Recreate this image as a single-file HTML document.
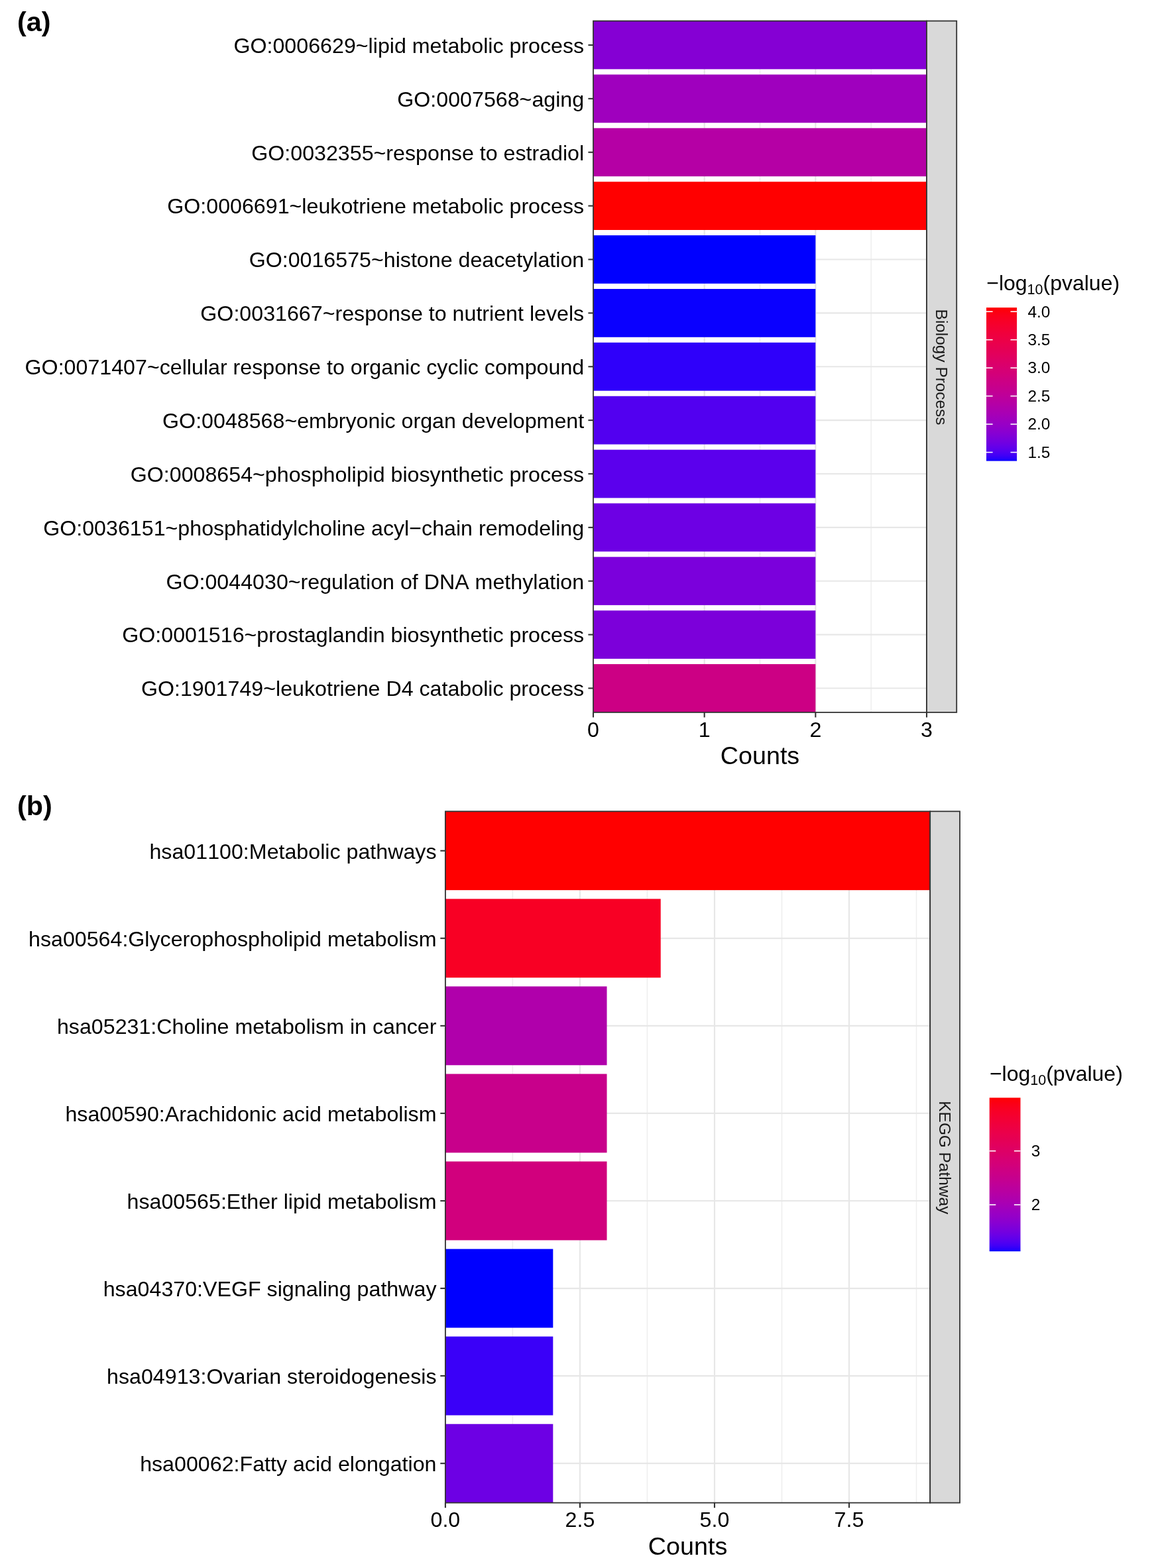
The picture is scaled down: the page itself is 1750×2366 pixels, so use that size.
<!DOCTYPE html><html><head><meta charset="utf-8"><style>html,body{margin:0;padding:0;background:#fff}svg{display:block}text{font-kerning:none}</style></head><body>
<svg width="1750" height="2366" viewBox="0 0 1750 2366">
<rect width="1750" height="2366" fill="#FFFFFF"/>
<text x="26" y="46.5" font-family="Liberation Sans, Arial, sans-serif" font-weight="bold" font-size="41.3" fill="#000">(a)</text>
<text x="26" y="1230" font-family="Liberation Sans, Arial, sans-serif" font-weight="bold" font-size="41.3" fill="#000">(b)</text>
<rect x="895" y="31.6" width="503" height="1043.3000000000002" fill="#FFFFFF"/>
<line x1="978.83" y1="31.6" x2="978.83" y2="1074.9" stroke="#EEEEEE" stroke-width="1.5"/>
<line x1="1146.50" y1="31.6" x2="1146.50" y2="1074.9" stroke="#EEEEEE" stroke-width="1.5"/>
<line x1="1314.17" y1="31.6" x2="1314.17" y2="1074.9" stroke="#EEEEEE" stroke-width="1.5"/>
<line x1="895.00" y1="31.6" x2="895.00" y2="1074.9" stroke="#E7E7E7" stroke-width="2.2"/>
<line x1="1062.67" y1="31.6" x2="1062.67" y2="1074.9" stroke="#E7E7E7" stroke-width="2.2"/>
<line x1="1230.33" y1="31.6" x2="1230.33" y2="1074.9" stroke="#E7E7E7" stroke-width="2.2"/>
<line x1="1398.00" y1="31.6" x2="1398.00" y2="1074.9" stroke="#E7E7E7" stroke-width="2.2"/>
<line x1="895" y1="67.99" x2="1398" y2="67.99" stroke="#E7E7E7" stroke-width="2.2"/>
<line x1="895" y1="148.87" x2="1398" y2="148.87" stroke="#E7E7E7" stroke-width="2.2"/>
<line x1="895" y1="229.75" x2="1398" y2="229.75" stroke="#E7E7E7" stroke-width="2.2"/>
<line x1="895" y1="310.62" x2="1398" y2="310.62" stroke="#E7E7E7" stroke-width="2.2"/>
<line x1="895" y1="391.50" x2="1398" y2="391.50" stroke="#E7E7E7" stroke-width="2.2"/>
<line x1="895" y1="472.37" x2="1398" y2="472.37" stroke="#E7E7E7" stroke-width="2.2"/>
<line x1="895" y1="553.25" x2="1398" y2="553.25" stroke="#E7E7E7" stroke-width="2.2"/>
<line x1="895" y1="634.13" x2="1398" y2="634.13" stroke="#E7E7E7" stroke-width="2.2"/>
<line x1="895" y1="715.00" x2="1398" y2="715.00" stroke="#E7E7E7" stroke-width="2.2"/>
<line x1="895" y1="795.88" x2="1398" y2="795.88" stroke="#E7E7E7" stroke-width="2.2"/>
<line x1="895" y1="876.75" x2="1398" y2="876.75" stroke="#E7E7E7" stroke-width="2.2"/>
<line x1="895" y1="957.63" x2="1398" y2="957.63" stroke="#E7E7E7" stroke-width="2.2"/>
<line x1="895" y1="1038.51" x2="1398" y2="1038.51" stroke="#E7E7E7" stroke-width="2.2"/>
<rect x="895" y="31.60" width="503.00" height="72.79" fill="#8500D4"/>
<rect x="895" y="112.48" width="503.00" height="72.79" fill="#9F00BE"/>
<rect x="895" y="193.35" width="503.00" height="72.79" fill="#B500A5"/>
<rect x="895" y="274.23" width="503.00" height="72.79" fill="#FF0000"/>
<rect x="895" y="355.10" width="335.33" height="72.79" fill="#0000FF"/>
<rect x="895" y="435.98" width="335.33" height="72.79" fill="#0A00FF"/>
<rect x="895" y="516.86" width="335.33" height="72.79" fill="#2F00FA"/>
<rect x="895" y="597.73" width="335.33" height="72.79" fill="#5200F0"/>
<rect x="895" y="678.61" width="335.33" height="72.79" fill="#5B00ED"/>
<rect x="895" y="759.48" width="335.33" height="72.79" fill="#6D00E4"/>
<rect x="895" y="840.36" width="335.33" height="72.79" fill="#7B00DC"/>
<rect x="895" y="921.24" width="335.33" height="72.79" fill="#7C00DA"/>
<rect x="895" y="1002.11" width="335.33" height="72.79" fill="#CC0084"/>
<rect x="895" y="31.6" width="503" height="1043.3000000000002" fill="none" stroke="#333333" stroke-width="1.8"/>
<rect x="1398" y="31.6" width="45.200000000000045" height="1043.3000000000002" fill="#D9D9D9" stroke="#333333" stroke-width="1.8"/>
<text x="0" y="0" transform="translate(1412.36,554.05) rotate(90)" text-anchor="middle" font-family="Liberation Sans, Arial, sans-serif" font-size="24.4" fill="#1A1A1A">Biology Process</text>
<line x1="887.40" y1="67.99" x2="895" y2="67.99" stroke="#333333" stroke-width="2.1"/>
<text x="881.2" y="79.79" text-anchor="end" font-family="Liberation Sans, Arial, sans-serif" font-size="32.2" fill="#000">GO:0006629~lipid metabolic process</text>
<line x1="887.40" y1="148.87" x2="895" y2="148.87" stroke="#333333" stroke-width="2.1"/>
<text x="881.2" y="160.67" text-anchor="end" font-family="Liberation Sans, Arial, sans-serif" font-size="32.2" fill="#000">GO:0007568~aging</text>
<line x1="887.40" y1="229.75" x2="895" y2="229.75" stroke="#333333" stroke-width="2.1"/>
<text x="881.2" y="241.55" text-anchor="end" font-family="Liberation Sans, Arial, sans-serif" font-size="32.2" fill="#000">GO:0032355~response to estradiol</text>
<line x1="887.40" y1="310.62" x2="895" y2="310.62" stroke="#333333" stroke-width="2.1"/>
<text x="881.2" y="322.42" text-anchor="end" font-family="Liberation Sans, Arial, sans-serif" font-size="32.2" fill="#000">GO:0006691~leukotriene metabolic process</text>
<line x1="887.40" y1="391.50" x2="895" y2="391.50" stroke="#333333" stroke-width="2.1"/>
<text x="881.2" y="403.30" text-anchor="end" font-family="Liberation Sans, Arial, sans-serif" font-size="32.2" fill="#000">GO:0016575~histone deacetylation</text>
<line x1="887.40" y1="472.37" x2="895" y2="472.37" stroke="#333333" stroke-width="2.1"/>
<text x="881.2" y="484.17" text-anchor="end" font-family="Liberation Sans, Arial, sans-serif" font-size="32.2" fill="#000">GO:0031667~response to nutrient levels</text>
<line x1="887.40" y1="553.25" x2="895" y2="553.25" stroke="#333333" stroke-width="2.1"/>
<text x="881.2" y="565.05" text-anchor="end" font-family="Liberation Sans, Arial, sans-serif" font-size="32.2" fill="#000">GO:0071407~cellular response to organic cyclic compound</text>
<line x1="887.40" y1="634.13" x2="895" y2="634.13" stroke="#333333" stroke-width="2.1"/>
<text x="881.2" y="645.93" text-anchor="end" font-family="Liberation Sans, Arial, sans-serif" font-size="32.2" fill="#000">GO:0048568~embryonic organ development</text>
<line x1="887.40" y1="715.00" x2="895" y2="715.00" stroke="#333333" stroke-width="2.1"/>
<text x="881.2" y="726.80" text-anchor="end" font-family="Liberation Sans, Arial, sans-serif" font-size="32.2" fill="#000">GO:0008654~phospholipid biosynthetic process</text>
<line x1="887.40" y1="795.88" x2="895" y2="795.88" stroke="#333333" stroke-width="2.1"/>
<text x="881.2" y="807.68" text-anchor="end" font-family="Liberation Sans, Arial, sans-serif" font-size="32.2" fill="#000">GO:0036151~phosphatidylcholine acyl−chain remodeling</text>
<line x1="887.40" y1="876.75" x2="895" y2="876.75" stroke="#333333" stroke-width="2.1"/>
<text x="881.2" y="888.55" text-anchor="end" font-family="Liberation Sans, Arial, sans-serif" font-size="32.2" fill="#000">GO:0044030~regulation of DNA methylation</text>
<line x1="887.40" y1="957.63" x2="895" y2="957.63" stroke="#333333" stroke-width="2.1"/>
<text x="881.2" y="969.43" text-anchor="end" font-family="Liberation Sans, Arial, sans-serif" font-size="32.2" fill="#000">GO:0001516~prostaglandin biosynthetic process</text>
<line x1="887.40" y1="1038.51" x2="895" y2="1038.51" stroke="#333333" stroke-width="2.1"/>
<text x="881.2" y="1050.31" text-anchor="end" font-family="Liberation Sans, Arial, sans-serif" font-size="32.2" fill="#000">GO:1901749~leukotriene D4 catabolic process</text>
<line x1="895.00" y1="1074.9" x2="895.00" y2="1082.50" stroke="#333333" stroke-width="2.1"/>
<text x="895.00" y="1111.60" text-anchor="middle" font-family="Liberation Sans, Arial, sans-serif" font-size="32.2" fill="#000">0</text>
<line x1="1062.67" y1="1074.9" x2="1062.67" y2="1082.50" stroke="#333333" stroke-width="2.1"/>
<text x="1062.67" y="1111.60" text-anchor="middle" font-family="Liberation Sans, Arial, sans-serif" font-size="32.2" fill="#000">1</text>
<line x1="1230.33" y1="1074.9" x2="1230.33" y2="1082.50" stroke="#333333" stroke-width="2.1"/>
<text x="1230.33" y="1111.60" text-anchor="middle" font-family="Liberation Sans, Arial, sans-serif" font-size="32.2" fill="#000">2</text>
<line x1="1398.00" y1="1074.9" x2="1398.00" y2="1082.50" stroke="#333333" stroke-width="2.1"/>
<text x="1398.00" y="1111.60" text-anchor="middle" font-family="Liberation Sans, Arial, sans-serif" font-size="32.2" fill="#000">3</text>
<text x="1146.50" y="1152.80" text-anchor="middle" font-family="Liberation Sans, Arial, sans-serif" font-size="37.7" fill="#000">Counts</text>
<text x="1488.20" y="437.7" font-family="Liberation Sans, Arial, sans-serif" font-size="32.0" fill="#000">−log<tspan font-size="21.5" dy="5.8">10</tspan><tspan dy="-5.8">(pvalue)</tspan></text>
<defs><linearGradient id="ga" x1="0" y1="0" x2="0" y2="1"><stop offset="0.0000" stop-color="#FF0000"/><stop offset="0.0083" stop-color="#FE0005"/><stop offset="0.0167" stop-color="#FE000B"/><stop offset="0.0250" stop-color="#FD000F"/><stop offset="0.0333" stop-color="#FC0013"/><stop offset="0.0417" stop-color="#FB0017"/><stop offset="0.0500" stop-color="#FB001A"/><stop offset="0.0583" stop-color="#FA001D"/><stop offset="0.0667" stop-color="#F90020"/><stop offset="0.0750" stop-color="#F90023"/><stop offset="0.0833" stop-color="#F80025"/><stop offset="0.0917" stop-color="#F70028"/><stop offset="0.1000" stop-color="#F6002A"/><stop offset="0.1083" stop-color="#F6002C"/><stop offset="0.1167" stop-color="#F5002F"/><stop offset="0.1250" stop-color="#F40031"/><stop offset="0.1333" stop-color="#F30033"/><stop offset="0.1417" stop-color="#F30035"/><stop offset="0.1500" stop-color="#F20037"/><stop offset="0.1583" stop-color="#F1003A"/><stop offset="0.1667" stop-color="#F0003C"/><stop offset="0.1750" stop-color="#EF003E"/><stop offset="0.1833" stop-color="#EF0040"/><stop offset="0.1917" stop-color="#EE0042"/><stop offset="0.2000" stop-color="#ED0044"/><stop offset="0.2083" stop-color="#EC0046"/><stop offset="0.2167" stop-color="#EB0048"/><stop offset="0.2250" stop-color="#EB004A"/><stop offset="0.2333" stop-color="#EA004C"/><stop offset="0.2417" stop-color="#E9004E"/><stop offset="0.2500" stop-color="#E80050"/><stop offset="0.2583" stop-color="#E70051"/><stop offset="0.2667" stop-color="#E60053"/><stop offset="0.2750" stop-color="#E50055"/><stop offset="0.2833" stop-color="#E40057"/><stop offset="0.2917" stop-color="#E40059"/><stop offset="0.3000" stop-color="#E3005B"/><stop offset="0.3083" stop-color="#E2005D"/><stop offset="0.3167" stop-color="#E1005F"/><stop offset="0.3250" stop-color="#E00061"/><stop offset="0.3333" stop-color="#DF0063"/><stop offset="0.3417" stop-color="#DE0065"/><stop offset="0.3500" stop-color="#DD0066"/><stop offset="0.3583" stop-color="#DC0068"/><stop offset="0.3667" stop-color="#DB006A"/><stop offset="0.3750" stop-color="#DA006C"/><stop offset="0.3833" stop-color="#D9006E"/><stop offset="0.3917" stop-color="#D80070"/><stop offset="0.4000" stop-color="#D70072"/><stop offset="0.4083" stop-color="#D60074"/><stop offset="0.4167" stop-color="#D50076"/><stop offset="0.4250" stop-color="#D40077"/><stop offset="0.4333" stop-color="#D30079"/><stop offset="0.4417" stop-color="#D2007B"/><stop offset="0.4500" stop-color="#D1007D"/><stop offset="0.4583" stop-color="#CF007F"/><stop offset="0.4667" stop-color="#CE0081"/><stop offset="0.4750" stop-color="#CD0083"/><stop offset="0.4833" stop-color="#CC0085"/><stop offset="0.4917" stop-color="#CB0087"/><stop offset="0.5000" stop-color="#CA0088"/><stop offset="0.5083" stop-color="#C8008A"/><stop offset="0.5167" stop-color="#C7008C"/><stop offset="0.5250" stop-color="#C6008E"/><stop offset="0.5333" stop-color="#C50090"/><stop offset="0.5417" stop-color="#C30092"/><stop offset="0.5500" stop-color="#C20094"/><stop offset="0.5583" stop-color="#C10096"/><stop offset="0.5667" stop-color="#BF0098"/><stop offset="0.5750" stop-color="#BE009A"/><stop offset="0.5833" stop-color="#BC009C"/><stop offset="0.5917" stop-color="#BB009E"/><stop offset="0.6000" stop-color="#BA009F"/><stop offset="0.6083" stop-color="#B800A1"/><stop offset="0.6167" stop-color="#B700A3"/><stop offset="0.6250" stop-color="#B500A5"/><stop offset="0.6333" stop-color="#B400A7"/><stop offset="0.6417" stop-color="#B200A9"/><stop offset="0.6500" stop-color="#B000AB"/><stop offset="0.6583" stop-color="#AF00AD"/><stop offset="0.6667" stop-color="#AD00AF"/><stop offset="0.6750" stop-color="#AB00B1"/><stop offset="0.6833" stop-color="#AA00B3"/><stop offset="0.6917" stop-color="#A800B5"/><stop offset="0.7000" stop-color="#A600B7"/><stop offset="0.7083" stop-color="#A400B9"/><stop offset="0.7167" stop-color="#A200BB"/><stop offset="0.7250" stop-color="#A000BD"/><stop offset="0.7333" stop-color="#9E00BF"/><stop offset="0.7417" stop-color="#9C00C1"/><stop offset="0.7500" stop-color="#9A00C3"/><stop offset="0.7583" stop-color="#9800C5"/><stop offset="0.7667" stop-color="#9600C7"/><stop offset="0.7750" stop-color="#9400C8"/><stop offset="0.7833" stop-color="#9100CA"/><stop offset="0.7917" stop-color="#8F00CC"/><stop offset="0.8000" stop-color="#8D00CE"/><stop offset="0.8083" stop-color="#8A00D0"/><stop offset="0.8167" stop-color="#8800D2"/><stop offset="0.8250" stop-color="#8500D4"/><stop offset="0.8333" stop-color="#8200D6"/><stop offset="0.8417" stop-color="#7F00D8"/><stop offset="0.8500" stop-color="#7C00DA"/><stop offset="0.8583" stop-color="#7900DC"/><stop offset="0.8667" stop-color="#7600DE"/><stop offset="0.8750" stop-color="#7300E0"/><stop offset="0.8833" stop-color="#6F00E2"/><stop offset="0.8917" stop-color="#6C00E5"/><stop offset="0.9000" stop-color="#6800E7"/><stop offset="0.9083" stop-color="#6400E9"/><stop offset="0.9167" stop-color="#6000EB"/><stop offset="0.9250" stop-color="#5B00ED"/><stop offset="0.9333" stop-color="#5600EF"/><stop offset="0.9417" stop-color="#5100F1"/><stop offset="0.9500" stop-color="#4B00F3"/><stop offset="0.9583" stop-color="#4500F5"/><stop offset="0.9667" stop-color="#3E00F7"/><stop offset="0.9750" stop-color="#3500F9"/><stop offset="0.9833" stop-color="#2B00FB"/><stop offset="0.9917" stop-color="#1D00FD"/><stop offset="1.0000" stop-color="#0000FF"/></linearGradient></defs>
<rect x="1488" y="464.1" width="46.1" height="231.5" fill="url(#ga)"/>
<line x1="1488" y1="682.52" x2="1497.60" y2="682.52" stroke="#FFFFFF" stroke-width="1.6"/>
<line x1="1524.50" y1="682.52" x2="1534.1" y2="682.52" stroke="#FFFFFF" stroke-width="1.6"/>
<text x="1550.40" y="690.82" font-family="Liberation Sans, Arial, sans-serif" font-size="24.4" fill="#000">1.5</text>
<line x1="1488" y1="640.06" x2="1497.60" y2="640.06" stroke="#FFFFFF" stroke-width="1.6"/>
<line x1="1524.50" y1="640.06" x2="1534.1" y2="640.06" stroke="#FFFFFF" stroke-width="1.6"/>
<text x="1550.40" y="648.36" font-family="Liberation Sans, Arial, sans-serif" font-size="24.4" fill="#000">2.0</text>
<line x1="1488" y1="597.60" x2="1497.60" y2="597.60" stroke="#FFFFFF" stroke-width="1.6"/>
<line x1="1524.50" y1="597.60" x2="1534.1" y2="597.60" stroke="#FFFFFF" stroke-width="1.6"/>
<text x="1550.40" y="605.90" font-family="Liberation Sans, Arial, sans-serif" font-size="24.4" fill="#000">2.5</text>
<line x1="1488" y1="555.14" x2="1497.60" y2="555.14" stroke="#FFFFFF" stroke-width="1.6"/>
<line x1="1524.50" y1="555.14" x2="1534.1" y2="555.14" stroke="#FFFFFF" stroke-width="1.6"/>
<text x="1550.40" y="563.44" font-family="Liberation Sans, Arial, sans-serif" font-size="24.4" fill="#000">3.0</text>
<line x1="1488" y1="512.68" x2="1497.60" y2="512.68" stroke="#FFFFFF" stroke-width="1.6"/>
<line x1="1524.50" y1="512.68" x2="1534.1" y2="512.68" stroke="#FFFFFF" stroke-width="1.6"/>
<text x="1550.40" y="520.98" font-family="Liberation Sans, Arial, sans-serif" font-size="24.4" fill="#000">3.5</text>
<line x1="1488" y1="470.21" x2="1497.60" y2="470.21" stroke="#FFFFFF" stroke-width="1.6"/>
<line x1="1524.50" y1="470.21" x2="1534.1" y2="470.21" stroke="#FFFFFF" stroke-width="1.6"/>
<text x="1550.40" y="478.51" font-family="Liberation Sans, Arial, sans-serif" font-size="24.4" fill="#000">4.0</text>
<rect x="671.9" y="1224.3" width="731.3000000000001" height="1043.3" fill="#FFFFFF"/>
<line x1="773.41" y1="1224.3" x2="773.41" y2="2267.6" stroke="#EEEEEE" stroke-width="1.5"/>
<line x1="976.44" y1="1224.3" x2="976.44" y2="2267.6" stroke="#EEEEEE" stroke-width="1.5"/>
<line x1="1179.47" y1="1224.3" x2="1179.47" y2="2267.6" stroke="#EEEEEE" stroke-width="1.5"/>
<line x1="1382.49" y1="1224.3" x2="1382.49" y2="2267.6" stroke="#EEEEEE" stroke-width="1.5"/>
<line x1="671.90" y1="1224.3" x2="671.90" y2="2267.6" stroke="#E7E7E7" stroke-width="2.2"/>
<line x1="874.93" y1="1224.3" x2="874.93" y2="2267.6" stroke="#E7E7E7" stroke-width="2.2"/>
<line x1="1077.95" y1="1224.3" x2="1077.95" y2="2267.6" stroke="#E7E7E7" stroke-width="2.2"/>
<line x1="1280.98" y1="1224.3" x2="1280.98" y2="2267.6" stroke="#E7E7E7" stroke-width="2.2"/>
<line x1="671.9" y1="1283.73" x2="1403.2" y2="1283.73" stroke="#E7E7E7" stroke-width="2.2"/>
<line x1="671.9" y1="1415.79" x2="1403.2" y2="1415.79" stroke="#E7E7E7" stroke-width="2.2"/>
<line x1="671.9" y1="1547.86" x2="1403.2" y2="1547.86" stroke="#E7E7E7" stroke-width="2.2"/>
<line x1="671.9" y1="1679.92" x2="1403.2" y2="1679.92" stroke="#E7E7E7" stroke-width="2.2"/>
<line x1="671.9" y1="1811.98" x2="1403.2" y2="1811.98" stroke="#E7E7E7" stroke-width="2.2"/>
<line x1="671.9" y1="1944.04" x2="1403.2" y2="1944.04" stroke="#E7E7E7" stroke-width="2.2"/>
<line x1="671.9" y1="2076.11" x2="1403.2" y2="2076.11" stroke="#E7E7E7" stroke-width="2.2"/>
<line x1="671.9" y1="2208.17" x2="1403.2" y2="2208.17" stroke="#E7E7E7" stroke-width="2.2"/>
<rect x="671.9" y="1224.30" width="730.89" height="118.86" fill="#FF0000"/>
<rect x="671.9" y="1356.36" width="324.84" height="118.86" fill="#F80024"/>
<rect x="671.9" y="1488.43" width="243.63" height="118.86" fill="#B000AB"/>
<rect x="671.9" y="1620.49" width="243.63" height="118.86" fill="#C8008B"/>
<rect x="671.9" y="1752.55" width="243.63" height="118.86" fill="#D1007D"/>
<rect x="671.9" y="1884.62" width="162.42" height="118.86" fill="#0000FF"/>
<rect x="671.9" y="2016.68" width="162.42" height="118.86" fill="#3A00F8"/>
<rect x="671.9" y="2148.74" width="162.42" height="118.86" fill="#6D00E4"/>
<rect x="671.9" y="1224.3" width="731.3000000000001" height="1043.3" fill="none" stroke="#333333" stroke-width="1.8"/>
<rect x="1403.2" y="1224.3" width="44.799999999999955" height="1043.3" fill="#D9D9D9" stroke="#333333" stroke-width="1.8"/>
<text x="0" y="0" transform="translate(1417.36,1746.75) rotate(90)" text-anchor="middle" font-family="Liberation Sans, Arial, sans-serif" font-size="24.4" fill="#1A1A1A">KEGG Pathway</text>
<line x1="664.30" y1="1283.73" x2="671.9" y2="1283.73" stroke="#333333" stroke-width="2.1"/>
<text x="658.5" y="1295.53" text-anchor="end" font-family="Liberation Sans, Arial, sans-serif" font-size="32.2" fill="#000">hsa01100:Metabolic pathways</text>
<line x1="664.30" y1="1415.79" x2="671.9" y2="1415.79" stroke="#333333" stroke-width="2.1"/>
<text x="658.5" y="1427.59" text-anchor="end" font-family="Liberation Sans, Arial, sans-serif" font-size="32.2" fill="#000">hsa00564:Glycerophospholipid metabolism</text>
<line x1="664.30" y1="1547.86" x2="671.9" y2="1547.86" stroke="#333333" stroke-width="2.1"/>
<text x="658.5" y="1559.66" text-anchor="end" font-family="Liberation Sans, Arial, sans-serif" font-size="32.2" fill="#000">hsa05231:Choline metabolism in cancer</text>
<line x1="664.30" y1="1679.92" x2="671.9" y2="1679.92" stroke="#333333" stroke-width="2.1"/>
<text x="658.5" y="1691.72" text-anchor="end" font-family="Liberation Sans, Arial, sans-serif" font-size="32.2" fill="#000">hsa00590:Arachidonic acid metabolism</text>
<line x1="664.30" y1="1811.98" x2="671.9" y2="1811.98" stroke="#333333" stroke-width="2.1"/>
<text x="658.5" y="1823.78" text-anchor="end" font-family="Liberation Sans, Arial, sans-serif" font-size="32.2" fill="#000">hsa00565:Ether lipid metabolism</text>
<line x1="664.30" y1="1944.04" x2="671.9" y2="1944.04" stroke="#333333" stroke-width="2.1"/>
<text x="658.5" y="1955.84" text-anchor="end" font-family="Liberation Sans, Arial, sans-serif" font-size="32.2" fill="#000">hsa04370:VEGF signaling pathway</text>
<line x1="664.30" y1="2076.11" x2="671.9" y2="2076.11" stroke="#333333" stroke-width="2.1"/>
<text x="658.5" y="2087.91" text-anchor="end" font-family="Liberation Sans, Arial, sans-serif" font-size="32.2" fill="#000">hsa04913:Ovarian steroidogenesis</text>
<line x1="664.30" y1="2208.17" x2="671.9" y2="2208.17" stroke="#333333" stroke-width="2.1"/>
<text x="658.5" y="2219.97" text-anchor="end" font-family="Liberation Sans, Arial, sans-serif" font-size="32.2" fill="#000">hsa00062:Fatty acid elongation</text>
<line x1="671.90" y1="2267.6" x2="671.90" y2="2275.20" stroke="#333333" stroke-width="2.1"/>
<text x="671.90" y="2304.30" text-anchor="middle" font-family="Liberation Sans, Arial, sans-serif" font-size="32.2" fill="#000">0.0</text>
<line x1="874.93" y1="2267.6" x2="874.93" y2="2275.20" stroke="#333333" stroke-width="2.1"/>
<text x="874.93" y="2304.30" text-anchor="middle" font-family="Liberation Sans, Arial, sans-serif" font-size="32.2" fill="#000">2.5</text>
<line x1="1077.95" y1="2267.6" x2="1077.95" y2="2275.20" stroke="#333333" stroke-width="2.1"/>
<text x="1077.95" y="2304.30" text-anchor="middle" font-family="Liberation Sans, Arial, sans-serif" font-size="32.2" fill="#000">5.0</text>
<line x1="1280.98" y1="2267.6" x2="1280.98" y2="2275.20" stroke="#333333" stroke-width="2.1"/>
<text x="1280.98" y="2304.30" text-anchor="middle" font-family="Liberation Sans, Arial, sans-serif" font-size="32.2" fill="#000">7.5</text>
<text x="1037.55" y="2345.50" text-anchor="middle" font-family="Liberation Sans, Arial, sans-serif" font-size="37.7" fill="#000">Counts</text>
<text x="1492.90" y="1631.2" font-family="Liberation Sans, Arial, sans-serif" font-size="32.0" fill="#000">−log<tspan font-size="21.5" dy="5.8">10</tspan><tspan dy="-5.8">(pvalue)</tspan></text>
<defs><linearGradient id="gb" x1="0" y1="0" x2="0" y2="1"><stop offset="0.0000" stop-color="#FF0000"/><stop offset="0.0083" stop-color="#FE0005"/><stop offset="0.0167" stop-color="#FE000B"/><stop offset="0.0250" stop-color="#FD000F"/><stop offset="0.0333" stop-color="#FC0013"/><stop offset="0.0417" stop-color="#FB0017"/><stop offset="0.0500" stop-color="#FB001A"/><stop offset="0.0583" stop-color="#FA001D"/><stop offset="0.0667" stop-color="#F90020"/><stop offset="0.0750" stop-color="#F90023"/><stop offset="0.0833" stop-color="#F80025"/><stop offset="0.0917" stop-color="#F70028"/><stop offset="0.1000" stop-color="#F6002A"/><stop offset="0.1083" stop-color="#F6002C"/><stop offset="0.1167" stop-color="#F5002F"/><stop offset="0.1250" stop-color="#F40031"/><stop offset="0.1333" stop-color="#F30033"/><stop offset="0.1417" stop-color="#F30035"/><stop offset="0.1500" stop-color="#F20037"/><stop offset="0.1583" stop-color="#F1003A"/><stop offset="0.1667" stop-color="#F0003C"/><stop offset="0.1750" stop-color="#EF003E"/><stop offset="0.1833" stop-color="#EF0040"/><stop offset="0.1917" stop-color="#EE0042"/><stop offset="0.2000" stop-color="#ED0044"/><stop offset="0.2083" stop-color="#EC0046"/><stop offset="0.2167" stop-color="#EB0048"/><stop offset="0.2250" stop-color="#EB004A"/><stop offset="0.2333" stop-color="#EA004C"/><stop offset="0.2417" stop-color="#E9004E"/><stop offset="0.2500" stop-color="#E80050"/><stop offset="0.2583" stop-color="#E70051"/><stop offset="0.2667" stop-color="#E60053"/><stop offset="0.2750" stop-color="#E50055"/><stop offset="0.2833" stop-color="#E40057"/><stop offset="0.2917" stop-color="#E40059"/><stop offset="0.3000" stop-color="#E3005B"/><stop offset="0.3083" stop-color="#E2005D"/><stop offset="0.3167" stop-color="#E1005F"/><stop offset="0.3250" stop-color="#E00061"/><stop offset="0.3333" stop-color="#DF0063"/><stop offset="0.3417" stop-color="#DE0065"/><stop offset="0.3500" stop-color="#DD0066"/><stop offset="0.3583" stop-color="#DC0068"/><stop offset="0.3667" stop-color="#DB006A"/><stop offset="0.3750" stop-color="#DA006C"/><stop offset="0.3833" stop-color="#D9006E"/><stop offset="0.3917" stop-color="#D80070"/><stop offset="0.4000" stop-color="#D70072"/><stop offset="0.4083" stop-color="#D60074"/><stop offset="0.4167" stop-color="#D50076"/><stop offset="0.4250" stop-color="#D40077"/><stop offset="0.4333" stop-color="#D30079"/><stop offset="0.4417" stop-color="#D2007B"/><stop offset="0.4500" stop-color="#D1007D"/><stop offset="0.4583" stop-color="#CF007F"/><stop offset="0.4667" stop-color="#CE0081"/><stop offset="0.4750" stop-color="#CD0083"/><stop offset="0.4833" stop-color="#CC0085"/><stop offset="0.4917" stop-color="#CB0087"/><stop offset="0.5000" stop-color="#CA0088"/><stop offset="0.5083" stop-color="#C8008A"/><stop offset="0.5167" stop-color="#C7008C"/><stop offset="0.5250" stop-color="#C6008E"/><stop offset="0.5333" stop-color="#C50090"/><stop offset="0.5417" stop-color="#C30092"/><stop offset="0.5500" stop-color="#C20094"/><stop offset="0.5583" stop-color="#C10096"/><stop offset="0.5667" stop-color="#BF0098"/><stop offset="0.5750" stop-color="#BE009A"/><stop offset="0.5833" stop-color="#BC009C"/><stop offset="0.5917" stop-color="#BB009E"/><stop offset="0.6000" stop-color="#BA009F"/><stop offset="0.6083" stop-color="#B800A1"/><stop offset="0.6167" stop-color="#B700A3"/><stop offset="0.6250" stop-color="#B500A5"/><stop offset="0.6333" stop-color="#B400A7"/><stop offset="0.6417" stop-color="#B200A9"/><stop offset="0.6500" stop-color="#B000AB"/><stop offset="0.6583" stop-color="#AF00AD"/><stop offset="0.6667" stop-color="#AD00AF"/><stop offset="0.6750" stop-color="#AB00B1"/><stop offset="0.6833" stop-color="#AA00B3"/><stop offset="0.6917" stop-color="#A800B5"/><stop offset="0.7000" stop-color="#A600B7"/><stop offset="0.7083" stop-color="#A400B9"/><stop offset="0.7167" stop-color="#A200BB"/><stop offset="0.7250" stop-color="#A000BD"/><stop offset="0.7333" stop-color="#9E00BF"/><stop offset="0.7417" stop-color="#9C00C1"/><stop offset="0.7500" stop-color="#9A00C3"/><stop offset="0.7583" stop-color="#9800C5"/><stop offset="0.7667" stop-color="#9600C7"/><stop offset="0.7750" stop-color="#9400C8"/><stop offset="0.7833" stop-color="#9100CA"/><stop offset="0.7917" stop-color="#8F00CC"/><stop offset="0.8000" stop-color="#8D00CE"/><stop offset="0.8083" stop-color="#8A00D0"/><stop offset="0.8167" stop-color="#8800D2"/><stop offset="0.8250" stop-color="#8500D4"/><stop offset="0.8333" stop-color="#8200D6"/><stop offset="0.8417" stop-color="#7F00D8"/><stop offset="0.8500" stop-color="#7C00DA"/><stop offset="0.8583" stop-color="#7900DC"/><stop offset="0.8667" stop-color="#7600DE"/><stop offset="0.8750" stop-color="#7300E0"/><stop offset="0.8833" stop-color="#6F00E2"/><stop offset="0.8917" stop-color="#6C00E5"/><stop offset="0.9000" stop-color="#6800E7"/><stop offset="0.9083" stop-color="#6400E9"/><stop offset="0.9167" stop-color="#6000EB"/><stop offset="0.9250" stop-color="#5B00ED"/><stop offset="0.9333" stop-color="#5600EF"/><stop offset="0.9417" stop-color="#5100F1"/><stop offset="0.9500" stop-color="#4B00F3"/><stop offset="0.9583" stop-color="#4500F5"/><stop offset="0.9667" stop-color="#3E00F7"/><stop offset="0.9750" stop-color="#3500F9"/><stop offset="0.9833" stop-color="#2B00FB"/><stop offset="0.9917" stop-color="#1D00FD"/><stop offset="1.0000" stop-color="#0000FF"/></linearGradient></defs>
<rect x="1492.7" y="1656.4" width="46.8" height="231.79999999999995" fill="url(#gb)"/>
<line x1="1492.7" y1="1817.89" x2="1502.30" y2="1817.89" stroke="#FFFFFF" stroke-width="1.6"/>
<line x1="1529.90" y1="1817.89" x2="1539.5" y2="1817.89" stroke="#FFFFFF" stroke-width="1.6"/>
<text x="1555.80" y="1826.19" font-family="Liberation Sans, Arial, sans-serif" font-size="24.4" fill="#000">2</text>
<line x1="1492.7" y1="1736.70" x2="1502.30" y2="1736.70" stroke="#FFFFFF" stroke-width="1.6"/>
<line x1="1529.90" y1="1736.70" x2="1539.5" y2="1736.70" stroke="#FFFFFF" stroke-width="1.6"/>
<text x="1555.80" y="1745.00" font-family="Liberation Sans, Arial, sans-serif" font-size="24.4" fill="#000">3</text>
</svg></body></html>
